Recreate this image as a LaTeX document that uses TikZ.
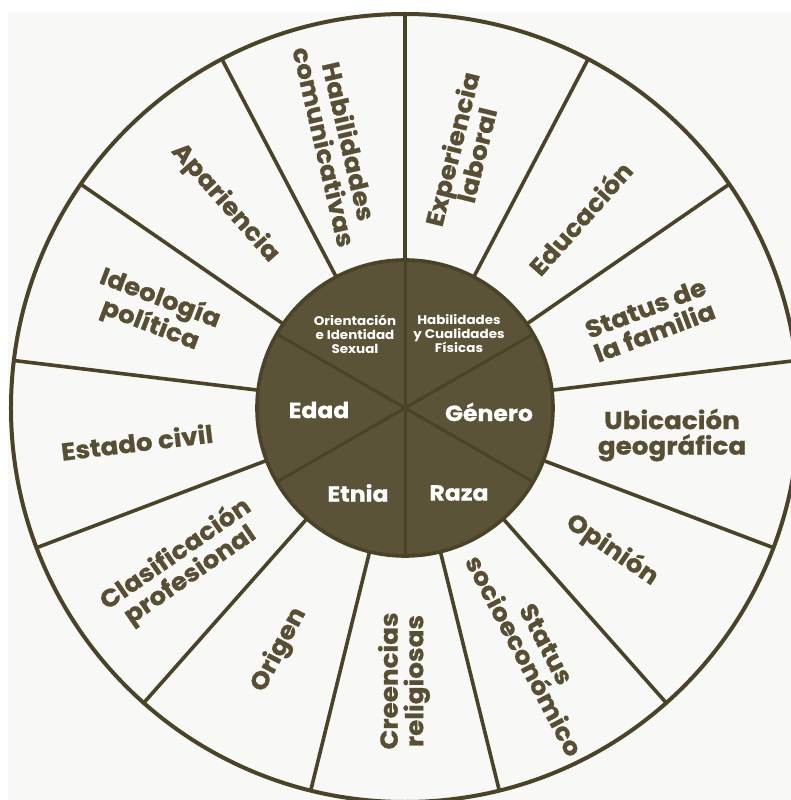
\documentclass[tikz,border=0pt]{standalone}
\usepackage{fontspec}
\setmainfont{Poppins}[FakeStretch=1.08]
\newfontfamily\labfont{Poppins}[FakeStretch=1.07, BoldFeatures={FakeBold=0.8}]
\definecolor{olive}{HTML}{4A4328}
\definecolor{fillol}{HTML}{5B5337}
\definecolor{txt}{HTML}{574E33}
\definecolor{bg}{HTML}{F8F8F6}
\begin{document}
\begin{tikzpicture}[x=1pt,y=1pt,
  lab/.style={font=\labfont\bfseries\fontsize{24.5}{25.5}\selectfont, text=txt, align=center, inner sep=0pt},
  inbig/.style={font=\labfont\bfseries\fontsize{22}{24}\selectfont, text=white, align=center, inner sep=0pt},
  insmall/.style={font=\bfseries\fontsize{12.5}{14}\selectfont, text=white, align=center, inner sep=0pt},
  ring/.style={draw=olive, line width=4pt},
  spoke/.style={draw=olive, line width=3.6pt}]
\useasboundingbox (-405,-392) rectangle (386,408);
\fill[white] (-405,-392) rectangle (386,408);
\fill[bg] (-397,-392) rectangle (386,396);
\coordinate (c) at (0,0);
% outer ring and spokes
\draw[ring] (c) circle (394);
\foreach \k in {0,...,12}{
  \coordinate (si\k) at ({90+\k*360/13}:148);
  \coordinate (so\k) at ({90+\k*360/13}:394);
  \draw[spoke] (si\k) -- (so\k);
}
% inner disc
\fill[fillol] (c) circle (148);
\foreach \a in {90,30,150}{
  \coordinate (da\a) at (\a:148);
  \coordinate (db\a) at (\a+180:148);
  \draw[olive, line width=3pt] (da\a) -- (db\a);
}
\draw[olive, line width=3.6pt] (c) circle (148);
% inner labels
\node[insmall] (ori) at (-50,74) {Orientación\\e Identidad\\Sexual};
\node[insmall] (hcf) at (54,74) {Habilidades\\y Cualidades\\Físicas};
\node[inbig] (edad) at (-86,-2) {Edad};
\node[inbig] (gen) at (84,-4) {Género};
\node[inbig] (etn) at (-47,-85) {Etnia};
\node[inbig] (raz) at (54,-85) {Raza};
% outer labels
\node[lab, rotate=-77] (hc) at (-68,264) {Habilidades\\comunicativas};
\node[lab, rotate=76.15] (el) at (59,256) {Experiencia\\laboral};
\node[lab, rotate=48.46] (edu) at (175,190) {Educación};
\node[lab, rotate=20.77] (sf) at (245,88) {Status de\\la familia};
\node[lab] (ug) at (267,-27) {Ubicación\\geográfica};
\node[lab, rotate=-34.6] (op) at (207,-142) {Opinión};
\node[lab, rotate=-62.3] (ss) at (130,-242) {Status\\socioeconómico};
\node[lab, rotate=90] (cr) at (-1,-273) {Creencias\\religiosas};
\node[lab, rotate=62.3] (orig) at (-126,-242) {Origen};
\node[lab, rotate=34.6] (cp) at (-222,-157) {Clasificación\\profesional};
\node[lab, rotate=6.9] (ec) at (-268,-34) {Estado civil};
\node[lab, rotate=-20.8] (ip) at (-250,96) {Ideología\\política};
\node[lab, rotate=-48.5] (ap) at (-180,205) {Apariencia};
\end{tikzpicture}
\end{document}
